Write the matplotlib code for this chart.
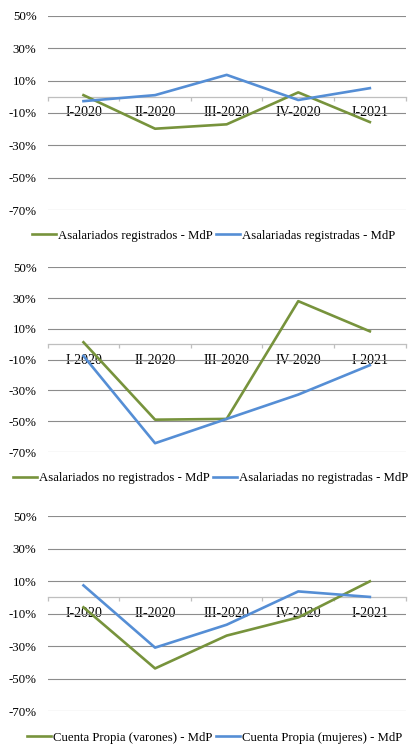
import matplotlib
matplotlib.use("Agg")
import matplotlib.pyplot as plt
import numpy as np
from matplotlib.ticker import FuncFormatter

plt.rcParams["font.family"] = ["Liberation Serif", "DejaVu Serif"]

quarters = ["I-2020", "II-2020", "III-2020", "IV-2020", "I-2021"]

asal_reg_v = [1.0, -19.7, -17.0, 2.7, -15.6]
asal_reg_m = [-2.7, 1.0, 13.5, -2.0, 5.3]

asal_noreg_v = [1.3, -49.0, -48.5, 28.0, 8.4]
asal_noreg_m = [-7.6, -64.3, -48.5, -32.7, -13.6]

cp_v = [-6.2, -43.8, -23.6, -12.4, 9.8]
cp_m = [7.3, -31.0, -16.9, 3.6, 0.2]

panels = [
    (asal_reg_v, asal_reg_m,
     "Asalariados registrados - MdP", "Asalariadas registradas - MdP"),
    (asal_noreg_v, asal_noreg_m,
     "Asalariados no registrados - MdP", "Asalariadas no registradas - MdP"),
    (cp_v, cp_m,
     "Cuenta Propia (varones) - MdP", "Cuenta Propia (mujeres) - MdP"),
]

yticks = [50, 30, 10, -10, -30, -50, -70]
GREEN = "#77933C"
BLUE = "#558ED5"
GRID = "#8C8C8C"
AXIS = "#BFBFBF"
YFS = 9.3
XFS = 10
LFS = 9.2

# axes rects [left, bottom, width, height] and legend centers (fig coords)
rects = [
    [0.116, 0.7181, 0.871, 0.2609],
    [0.116, 0.3941, 0.871, 0.2476],
    [0.116, 0.0469, 0.871, 0.2614],
]
leg_pos = [(0.519, 0.684), (0.513, 0.359), (0.522, 0.011)]

fig = plt.figure(figsize=(4.11, 7.46), dpi=100)

for (v, m, lv, lm), rect, lp in zip(panels, rects, leg_pos):
    ax = fig.add_axes(rect)
    x = np.arange(len(quarters))
    ax.set_xlim(-0.5, len(quarters) - 0.5)
    ax.set_ylim(-70, 50)
    ax.set_yticks(yticks)
    ax.yaxis.set_major_formatter(FuncFormatter(lambda y, _: "%d%%" % y))
    ax.tick_params(axis="y", length=0, labelsize=YFS, pad=8)
    ax.yaxis.grid(True, color=GRID, lw=0.8)
    ax.set_axisbelow(True)
    for s in ["left", "right", "top"]:
        ax.spines[s].set_visible(False)
    ax.spines["bottom"].set_position(("data", 0))
    ax.spines["bottom"].set_color(AXIS)
    ax.spines["bottom"].set_linewidth(0.9)
    ax.set_xticks(x)
    ax.set_xticklabels(quarters)
    ax.set_xticks(np.arange(-0.5, len(quarters)), minor=True)
    ax.tick_params(axis="x", which="major", length=0, labelsize=XFS, pad=7)
    ax.tick_params(axis="x", which="minor", length=3, color=AXIS, width=0.9)

    l1, = ax.plot(x, v, color=GREEN, lw=1.9, label=lv, zorder=3)
    l2, = ax.plot(x, m, color=BLUE, lw=1.9, label=lm, zorder=3)

    fig.legend(handles=[l1, l2], loc="center", bbox_to_anchor=lp, ncol=2,
               frameon=False, fontsize=LFS, handlelength=1.9,
               handletextpad=0.15, columnspacing=0.25, borderaxespad=0,
               borderpad=0)

fig.savefig("out.png", dpi=100)
